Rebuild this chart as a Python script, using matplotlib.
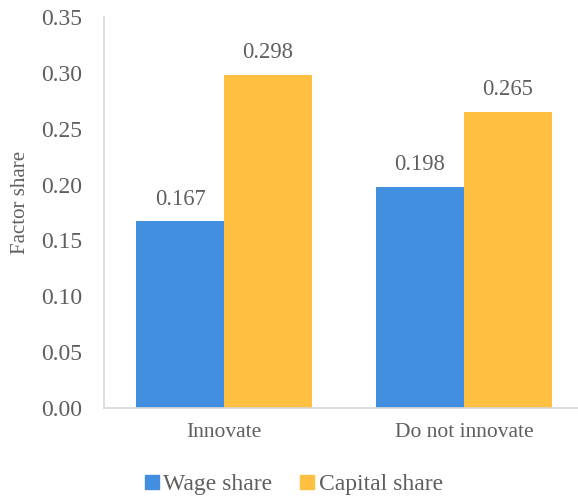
import matplotlib
matplotlib.use("Agg")
import matplotlib.pyplot as plt
from matplotlib.lines import Line2D
import numpy as np

categories = ["Innovate", "Do not innovate"]
wage_share = [0.167, 0.198]
capital_share = [0.298, 0.265]
series_names = ["Wage share", "Capital share"]
yticks = [0.00, 0.05, 0.10, 0.15, 0.20, 0.25, 0.30, 0.35]

blue = "#418FDE"
orange = "#FFBF40"
gray = "#5f5f5f"

plt.rcParams["font.family"] = ["Liberation Serif", "DejaVu Serif"]

fig = plt.figure(figsize=(5.78, 4.96), dpi=100)
ax = fig.add_axes([104/578, 88/496, 480/578, 391/496])

x = np.arange(len(categories))
w = 88/240
ax.bar(x - w/2, wage_share, width=w, color=blue, label=series_names[0])
ax.bar(x + w/2, capital_share, width=w, color=orange, label=series_names[1])

for xi, v in zip(x - w/2, wage_share):
    ax.annotate(f"{v:.3f}", (xi, v), xytext=(0, 16), textcoords="offset points",
                ha="center", va="center", fontsize=16.3, color=gray)
for xi, v in zip(x + w/2, capital_share):
    ax.annotate(f"{v:.3f}", (xi, v), xytext=(0, 16), textcoords="offset points",
                ha="center", va="center", fontsize=16.3, color=gray)

ax.set_xlim(-0.5, 1.5)
ax.set_ylim(0, 0.35)
ax.set_yticks(yticks)
ax.set_yticklabels([f"{t:.2f}" for t in yticks])
ax.set_xticks(x)
ax.set_xticklabels(categories)
ax.tick_params(axis="y", length=0, pad=16, labelsize=17, labelcolor=gray)
ax.tick_params(axis="x", length=0, pad=11, labelsize=15.5, labelcolor=gray)

for s in ["top", "right"]:
    ax.spines[s].set_visible(False)
for s in ["left", "bottom"]:
    ax.spines[s].set_color("#D9D9D9")
    ax.spines[s].set_linewidth(1.2)

ax.set_ylabel("Factor share", fontsize=15, color=gray)
ax.yaxis.set_label_coords(-74/480, 0.525)

handles = [Line2D([], [], marker="s", linestyle="none", markersize=10, color=blue),
           Line2D([], [], marker="s", linestyle="none", markersize=10, color=orange)]
leg = fig.legend(handles, series_names, loc="center", bbox_to_anchor=(0.507, 1 - 484/496),
                 ncol=2, frameon=False, fontsize=17, handletextpad=0.1, columnspacing=1.1,
                 handlelength=0.75)
for t in leg.get_texts():
    t.set_color(gray)

fig.savefig("out.png", dpi=100)
